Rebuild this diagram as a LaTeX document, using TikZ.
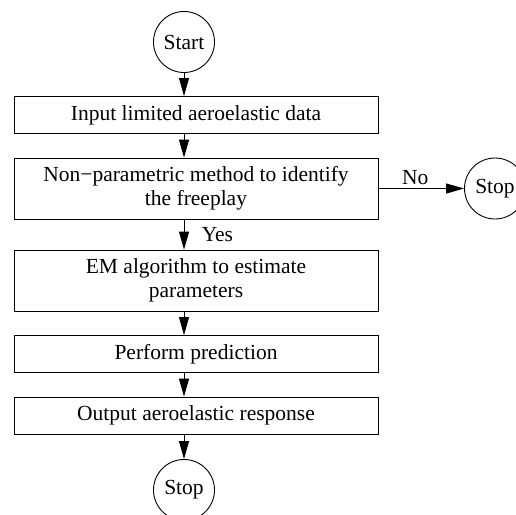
\documentclass[tikz,border=0pt]{standalone}
\usepackage{fontspec}
\setmainfont{Liberation Serif}
\usetikzlibrary{arrows,arrows.meta}
\usetikzlibrary{calc,positioning}

\tikzset{
  schritt/.style={draw, minimum width=364pt, minimum height=37pt, inner sep=0pt, align=center},
  kreis/.style={draw, circle, minimum size=61pt, inner sep=0pt},
  pfeil/.style={-{Triangle[length=18pt,width=10pt]}},
}

\begin{document}
\begin{tikzpicture}[x=1pt, y=-1pt, line width=0.9pt, font=\fontsize{21.5pt}{24pt}\selectfont]

    \useasboundingbox (0,0) rectangle (516,514);

        \node[kreis] (start) at (184,42) {Start};

        \node[schritt] (input) at (196,115) {Input limited aeroelastic data};
        \node[schritt, minimum height=61pt] (freeplay) at (196,188.5) {Non−parametric method to identify\\the freeplay};
        \node[schritt, minimum height=61pt] (em) at (196,280.5) {EM algorithm to estimate\\parameters};
        \node[schritt] (predict) at (196,354) {Perform prediction};
        \node[schritt] (output) at (196,415.5) {Output aeroelastic response};

        \node[kreis] (stop) at (184,490) {Stop};
        \node[kreis] (stopno) at (495,188.5) {Stop};

        \draw[pfeil] (start) -- (start |- input.north);
        \draw[pfeil] (input.south -| start) -- (freeplay.north -| start);
        \draw[pfeil] (freeplay.south -| start) -- node[right=14pt]{Yes} (em.north -| start);
        \draw[pfeil] (em.south -| start) -- (predict.north -| start);
        \draw[pfeil] (predict.south -| start) -- (output.north -| start);
        \draw[pfeil] (output.south -| start) -- (stop);

        \draw[pfeil] (freeplay) -- node[above, pos=0.43]{No} (stopno);

\end{tikzpicture}
\end{document}
